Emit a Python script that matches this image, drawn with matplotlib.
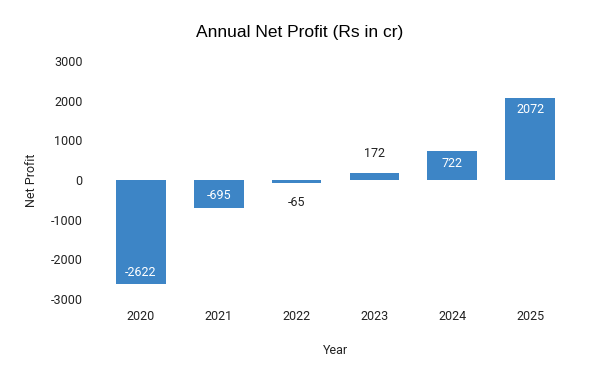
import matplotlib.pyplot as plt

years = ["2020", "2021", "2022", "2023", "2024", "2025"]
profit = [-2622, -695, -65, 172, 722, 2072]
# labels sit inside the bar end when the bar is big enough
inside = [True, True, False, False, True, True]

plt.rcParams['font.family'] = ['Roboto', 'DejaVu Sans']
plt.rcParams['axes.unicode_minus'] = False

fig = plt.figure(figsize=(6, 3.71), dpi=100)
ax = fig.add_axes([102 / 600, 1 - 299 / 371, 467 / 600, 238 / 371])

x = range(len(years))
bars = ax.bar(x, profit, width=0.64, color="#3d85c6")

for xi, v, ins in zip(x, profit, inside):
    sign = 1 if v >= 0 else -1
    if ins:
        ax.annotate(str(v), (xi, v), xytext=(0, -8.5 * sign), textcoords="offset points",
                    ha="center", va="center", color="white", fontsize=9)
    else:
        ax.annotate(str(v), (xi, v), xytext=(0, 14 * sign), textcoords="offset points",
                    ha="center", va="center", color="#222222", fontsize=9)

ax.set_xlim(-0.5, len(years) - 0.5)
ax.set_ylim(-3000, 3000)
ax.set_yticks([-3000, -2000, -1000, 0, 1000, 2000, 3000])
ax.set_xticks(list(x))
ax.set_xticklabels(years)
ax.tick_params(length=0, labelsize=9, colors="#222222")
ax.tick_params(axis="y", pad=14)
ax.tick_params(axis="x", pad=8)
for s in ax.spines.values():
    s.set_visible(False)

ax.set_xlabel("Year", fontsize=9, color="#222222")
ax.set_ylabel("Net Profit", fontsize=9, color="#222222")
ax.xaxis.set_label_coords(0.5, -45 / 238, transform=ax.transAxes)
ax.yaxis.set_label_coords(-64 / 467, 0.5, transform=ax.transAxes)
fig.text(0.5, 1 - 32 / 371, "Annual Net Profit (Rs in cr)", ha="center", va="center",
         fontsize=12.5, family=["Liberation Sans", "DejaVu Sans"])

fig.savefig("out.png", dpi=100)
